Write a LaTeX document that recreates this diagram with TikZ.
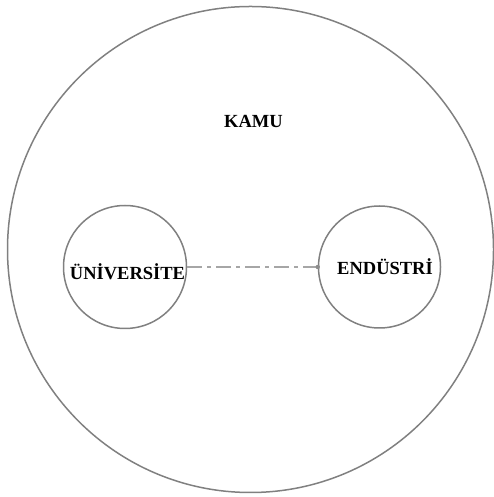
\documentclass[tikz,border=0pt]{standalone}
\usepackage{fontspec}
\setmainfont{Liberation Serif}
\begin{document}
\begin{tikzpicture}[x=1pt,y=1pt,
  ring/.style={draw=black!50,line width=1.5pt},
  lbl/.style={font=\bfseries\fontsize{18.5}{20}\selectfont,anchor=base,inner sep=0pt},
  link/.style={draw=black!35,line width=1.5pt,dash pattern=on 15pt off 5pt on 4pt off 5pt}]
\useasboundingbox (0,0) rectangle (494,497);
\node[ring,circle,minimum size=486pt,inner sep=0pt] (kamu) at (250.5,247.5) {};
\node[ring,circle,minimum size=123pt,inner sep=0pt] (uni) at (125,230) {};
\node[ring,circle,minimum size=122pt,inner sep=0pt] (end) at (379.5,230) {};
\node[lbl] (tk) at (253.5,369) {KAMU};
\node[lbl] (tu) at (127.5,217) {ÜNİVERSİTE};
\node[lbl] (te) at (385,222) {ENDÜSTRİ};
\draw[link] (uni.east) -- (end.west);
\fill[black!45] (end.west) circle (2.2pt);
\end{tikzpicture}
\end{document}
